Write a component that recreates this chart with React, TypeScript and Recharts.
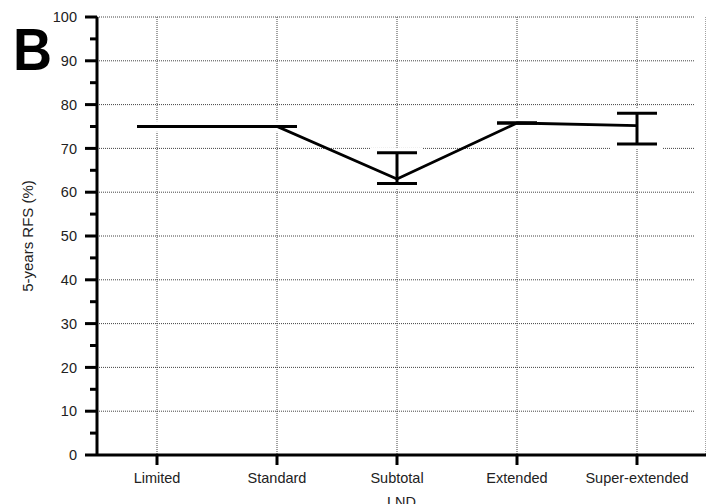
import React from 'react';
import { CartesianGrid, Customized, ErrorBar, Line, LineChart, XAxis, YAxis } from 'recharts';

const categories = ['Limited', 'Standard', 'Subtotal', 'Extended', 'Super-extended'];
const rfs = [75, 75, 63, 75.8, 75.2];
const ciLow = [75, 75, 62, 75.8, 71];
const ciHigh = [75, 75, 69, 75.8, 78];
const yTicks = [0, 5, 10, 15, 20, 25, 30, 35, 40, 45, 50, 55, 60, 65, 70, 75, 80, 85, 90, 95, 100];
const gridValues = [10, 20, 30, 40, 50, 60, 70, 80, 90, 100];

const data = categories.map((name, i) => ({
  name,
  rfs: rfs[i],
  err: [rfs[i] - ciLow[i], ciHigh[i] - rfs[i]],
}));

const FONT = "'Liberation Sans', Arial, sans-serif";

// major ticks every 10 carry a label, minor ticks every 5 are shorter
const YTick = (props: any) => {
  const { x, y, payload } = props;
  const major = payload.value % 10 === 0;
  return (
    <g>
      <line x1={x - (major ? 12 : 7)} x2={x} y1={y} y2={y} stroke="#000" strokeWidth={3} />
      {major && (
        <text x={x - 20} y={y} dy="0.36em" textAnchor="end" fontSize={14.5} fill="#222" fontFamily={FONT}>
          {payload.value}
        </text>
      )}
    </g>
  );
};

const PanelLetter = () => (
  <text x={13} y={70} fontSize={60} fontWeight="bold" fill="#000" fontFamily={FONT} transform="translate(13 0) scale(0.9 1) translate(-13 0)">
    B
  </text>
);

export default function App() {
  return (
    <div style={{ position: 'absolute', left: 0, top: 0, background: '#fff' }}>
      <LineChart width={706} height={504} data={data} margin={{ top: 17, right: 0, bottom: 0, left: 0 }}>
        <CartesianGrid
          x={97}
          width={598}
          stroke="#444"
          strokeDasharray="1 1"
          horizontalValues={gridValues}
        />
        <XAxis
          dataKey="name"
          height={49}
          padding={{ left: 60, right: 69 }}
          axisLine={{ stroke: '#000', strokeWidth: 3 }}
          tickLine={{ stroke: '#000', strokeWidth: 3 }}
          tickSize={10}
          tickMargin={8}
          interval={0}
          tick={{ fill: '#222', fontSize: 14.5, fontFamily: FONT }}
          label={{ value: 'LND', position: 'insideBottom', offset: -3, fill: '#222', fontSize: 14.5, fontFamily: FONT }}
        />
        <YAxis
          width={97}
          domain={[0, 100]}
          ticks={yTicks}
          interval={0}
          axisLine={{ stroke: '#000', strokeWidth: 3 }}
          tickLine={false}
          tickSize={0}
          tickMargin={0}
          tick={<YTick />}
          label={{
            value: '5-years RFS (%)',
            angle: -90,
            position: 'insideLeft',
            offset: 28,
            fill: '#222',
            fontSize: 15,
            fontFamily: FONT,
            style: { textAnchor: 'middle' },
          }}
        />
        {/* white backing behind the caps so the dotted grid breaks around them */}
        <Line dataKey="rfs" stroke="none" dot={false} activeDot={false} isAnimationActive={false}>
          <ErrorBar dataKey="err" width={26} stroke="#fff" strokeWidth={10} />
        </Line>
        <Line
          type="linear"
          dataKey="rfs"
          stroke="#000"
          strokeWidth={2.8}
          dot={false}
          activeDot={false}
          isAnimationActive={false}
        >
          <ErrorBar dataKey="err" width={20} stroke="#000" strokeWidth={3} />
        </Line>
        <Customized component={PanelLetter} />
      </LineChart>
    </div>
  );
}
